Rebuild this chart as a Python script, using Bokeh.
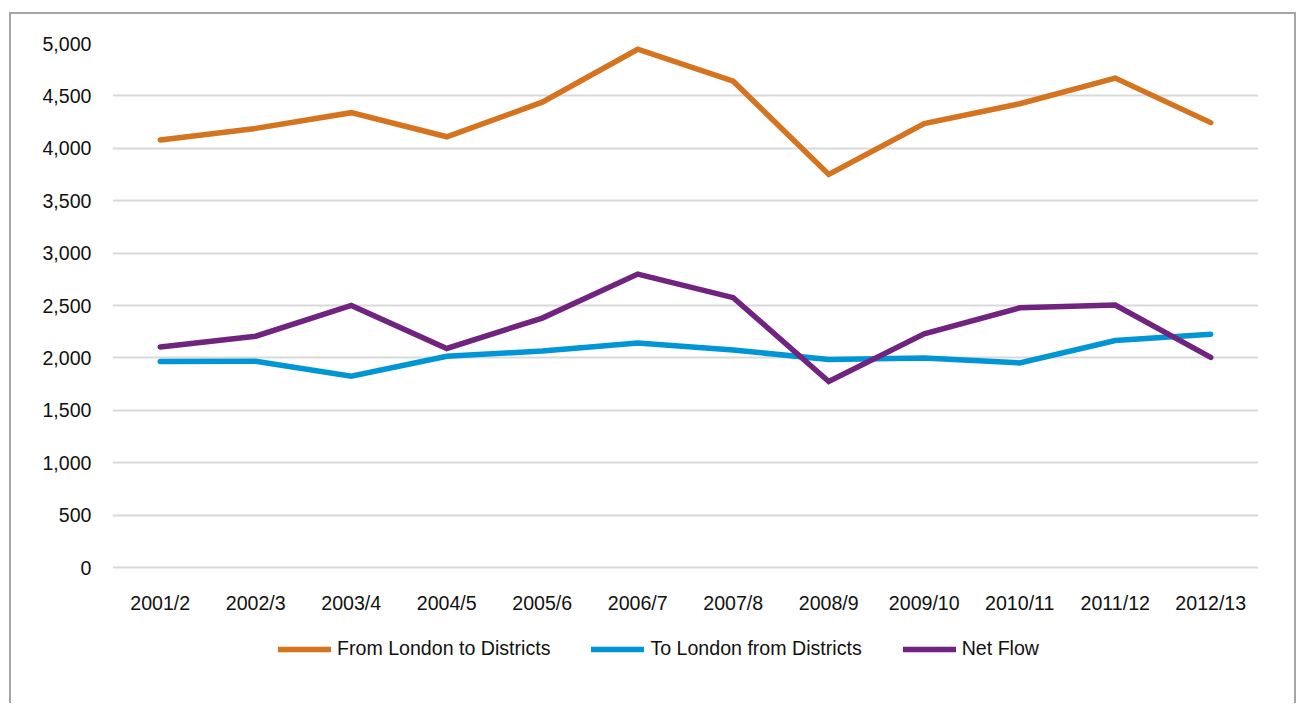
from bokeh.plotting import figure
from bokeh.models import FactorRange, Range1d, Legend, LegendItem, NumeralTickFormatter, FixedTicker
from bokeh.core.properties import value
from bokeh.embed import file_html
from bokeh.resources import INLINE

years = ["2001/2", "2002/3", "2003/4", "2004/5", "2005/6", "2006/7",
         "2007/8", "2008/9", "2009/10", "2010/11", "2011/12", "2012/13"]
from_london = [4080, 4190, 4340, 4110, 4440, 4945, 4640, 3750, 4235, 4425, 4670, 4245]
to_london = [1965, 1968, 1825, 2016, 2065, 2143, 2075, 1985, 2000, 1952, 2166, 2225]
net_flow = [2105, 2207, 2500, 2090, 2380, 2800, 2575, 1775, 2230, 2478, 2505, 2005]
y_ticks = [0, 500, 1000, 1500, 2000, 2500, 3000, 3500, 4000, 4500, 5000]

series_names = ["From London to Districts", "To London from Districts", "Net Flow"]
colors = ["#D6731E", "#0096D6", "#70237F"]

FONT = "Liberation Sans"
FS = "19.6px"

p = figure(x_range=FactorRange(*years), y_range=Range1d(-1269, 5000),
           width=1287, height=691, output_backend="svg", toolbar_location=None,
           min_border_left=101, min_border_right=40, min_border_top=29, min_border_bottom=5)
p.styles = {"border-left": "2px solid #a6a6a6", "border-top": "2px solid #a6a6a6",
            "border-right": "2px solid #a6a6a6", "margin-left": "9px", "margin-top": "12px",
            "margin-bottom": "-40px"}
p.outline_line_color = None
p.background_fill_color = "white"
p.border_fill_color = "white"

p.xaxis.visible = False
p.xgrid.grid_line_color = None
p.ygrid.grid_line_color = "#d9d9d9"
p.ygrid.grid_line_width = 2
p.yaxis.ticker = FixedTicker(ticks=y_ticks)
p.yaxis.formatter = NumeralTickFormatter(format="0,0")
p.yaxis.axis_line_color = None
p.yaxis.major_tick_line_color = None
p.yaxis.minor_tick_line_color = None
p.yaxis.major_tick_out = 0
p.yaxis.major_tick_in = 0
p.yaxis.major_label_text_font = FONT
p.yaxis.major_label_text_font_size = FS
p.yaxis.major_label_text_color = "#111111"
p.yaxis.major_label_standoff = 21

# category labels under the zero line
p.text(x=years, y=[0] * len(years), text=years, y_offset=35,
       text_align="center", text_baseline="middle",
       text_font=value(FONT), text_font_size=value(FS), text_color="#111111")

renderers = []
for vals, c in zip([from_london, to_london, net_flow], colors):
    r = p.line(years, vals, line_color=c, line_width=5.5, line_cap="round", line_join="miter")
    renderers.append(r)

legend = Legend(items=[LegendItem(label=n, renderers=[r]) for n, r in zip(series_names, renderers)],
                orientation="horizontal", location=(166, 40))
legend.label_text_font = FONT
legend.label_text_font_size = FS
legend.label_text_color = "#111111"
legend.glyph_width = 53
legend.glyph_height = 20
legend.label_standoff = 6
legend.spacing = 41
legend.padding = 0
legend.margin = 0
legend.border_line_color = None
legend.background_fill_alpha = 0
p.add_layout(legend, "center")

open("out.html", "w").write(file_html(p, INLINE))
